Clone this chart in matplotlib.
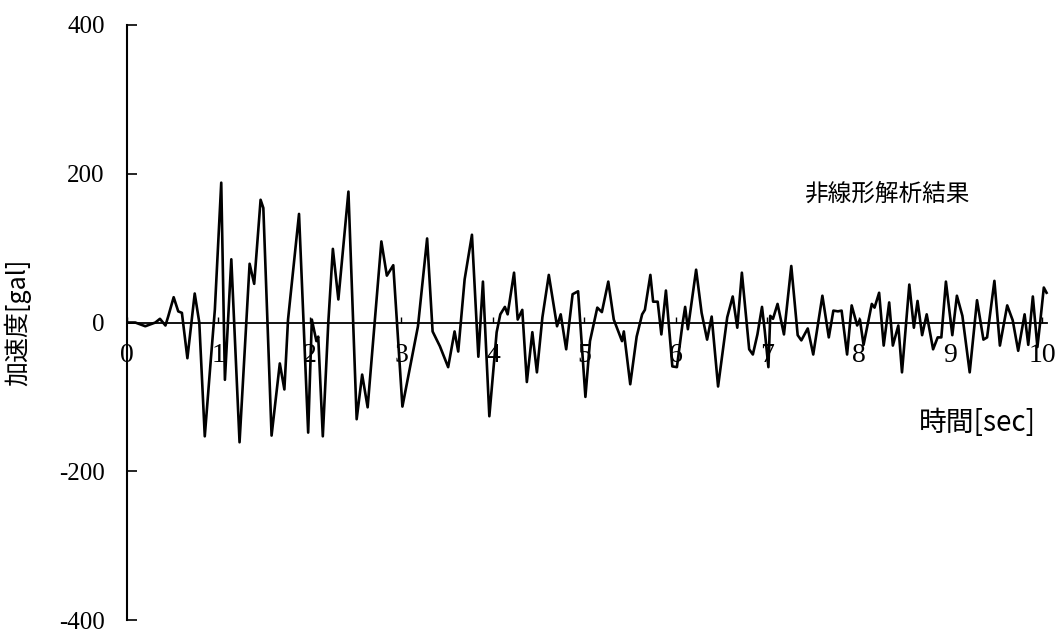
import numpy as np
import matplotlib
matplotlib.use("Agg")
import matplotlib.pyplot as plt

# acceleration time history
time_sec = [0.00, 0.09, 0.20, 0.31, 0.36, 0.42, 0.45, 0.51, 0.56, 0.60, 0.66, 0.70, 0.74, 0.79,
            0.85, 0.91, 0.96, 1.03, 1.07, 1.14, 1.23, 1.34, 1.39, 1.46, 1.49, 1.58, 1.67, 1.72,
            1.76, 1.88, 1.92, 1.98, 2.02, 2.07, 2.09, 2.14, 2.20, 2.25, 2.31, 2.42, 2.51, 2.57,
            2.63, 2.78, 2.84, 2.91, 3.01, 3.18, 3.28, 3.34, 3.42,
            3.51, 3.58, 3.62, 3.69, 3.77, 3.84, 3.89, 3.96, 4.04, 4.08, 4.13, 4.16, 4.23, 4.27,
            4.32, 4.37, 4.43, 4.48, 4.54, 4.61, 4.70, 4.74, 4.80, 4.87, 4.93, 5.01, 5.06,
            5.14, 5.19, 5.26, 5.32, 5.41, 5.43, 5.50, 5.57, 5.63, 5.66, 5.72, 5.75, 5.80, 5.84,
            5.89, 5.96, 6.01, 6.07, 6.10, 6.13, 6.22, 6.28, 6.34, 6.39, 6.46, 6.56, 6.62, 6.67,
            6.72, 6.80,
            6.84, 6.89, 6.94, 6.97, 7.01, 7.03, 7.06, 7.11, 7.18, 7.26, 7.33, 7.37, 7.44, 7.50,
            7.60, 7.67, 7.72, 7.77, 7.81, 7.87, 7.92, 7.98, 8.01, 8.05, 8.14, 8.17, 8.22, 8.27,
            8.33, 8.37, 8.43, 8.47,
            8.55, 8.60, 8.64, 8.69, 8.74, 8.81, 8.86, 8.90, 8.95, 9.02, 9.07, 9.13, 9.21, 9.29,
            9.36, 9.40, 9.48, 9.54, 9.62, 9.68, 9.74, 9.81, 9.85, 9.90, 9.95, 9.98, 10.02, 10.05]
accel_gal = [0, 0, -5, 0, 5, -4, 8, 34, 15, 13, -48, -5, 39, 0,
             -153, -59, 17, 188, -77, 85, -161, 79, 52, 165, 154, -152, -55, -90,
             4, 146, 27, -148, 4, -25, -19, -153, 0, 99, 31, 176, -130, -70,
             -114, 109, 63, 77, -113, -5, 113, -12, -32,
             -60, -12, -39, 58, 118, -46, 55, -126, -13, 11, 21, 11, 67, 4,
             17, -80, -13, -67, 7, 64, -5, 11, -36, 38, 42, -100, -25,
             20, 14, 55, 4, -25, -12, -83, -19, 11, 17, 64, 28, 28, -16,
             43, -59, -60, -3, 21, -9, 71, 13, -23, 8, -86, 7, 35, -7,
             67, -36,
             -43, -16, 21, -11, -60, 9, 5, 25, -16, 76, -17, -24, -8, -43,
             36, -20, 16, 15, 16, -43, 23, -4, 4, -30, 25, 20, 40, -31,
             27, -31, -4, -67,
             51, -7, 29, -17, 11, -36, -20, -20, 55, -17, 36, 9, -67, 30,
             -23, -20, 56, -31, 23, 3, -38, 11, -30, 35, -33, 0, 47, 40]

x_ticks = [0, 1, 2, 3, 4, 5, 6, 7, 8, 9, 10]
y_ticks = [400, 200, 0, -200, -400]

jp = ['Noto Sans CJK JP', 'DejaVu Sans']

fig = plt.figure(figsize=(10.61, 6.34), dpi=100)
ax = fig.add_axes([0.1197, 0.022, 0.871, 0.9386])

ax.plot(time_sec, accel_gal, color='black', lw=1.9)

ax.set_xlim(0, 10.1)
ax.set_ylim(-400, 400)

ax.spines['top'].set_visible(False)
ax.spines['right'].set_visible(False)
ax.spines['left'].set_linewidth(1.5)
ax.spines['bottom'].set_position(('data', 0))
ax.spines['bottom'].set_bounds(0, 10.05)
ax.spines['bottom'].set_linewidth(1.3)

ax.set_yticks(y_ticks)
ax.set_yticklabels([str(v) for v in y_ticks], fontfamily='Liberation Serif', fontsize=18)
ax.tick_params(axis='y', direction='in', length=7, width=1.2, pad=16)

ax.set_xticks(x_ticks)
ax.set_xticklabels([str(v) for v in x_ticks], fontfamily='Liberation Serif', fontsize=20)
ax.tick_params(axis='x', direction='in', length=4, width=1.0, pad=15)

ax.set_ylabel('加速度[gal]', fontfamily=jp, fontsize=18)
ax.yaxis.set_label_coords(-0.104, 0.5)

ax.text(0.912, 0.715, '非線形解析結果', transform=ax.transAxes, ha='right', va='center',
        fontfamily=jp, fontsize=17)
ax.text(0.983, 0.331, '時間[sec]', transform=ax.transAxes, ha='right', va='center',
        fontfamily=jp, fontsize=20)

fig.savefig('out.png', dpi=100)
